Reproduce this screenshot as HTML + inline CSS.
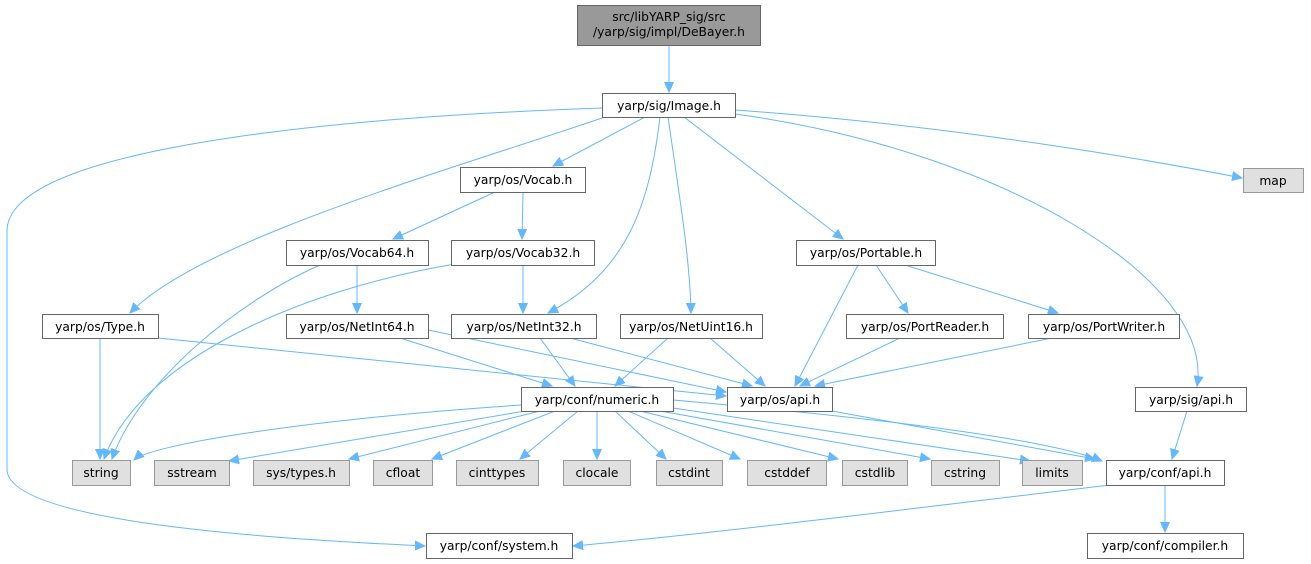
<!DOCTYPE html>
<html><head><meta charset="utf-8"><style>
html,body{margin:0;padding:0;background:#fff;}
svg{display:block;}
text{font-family:"DejaVu Sans","Liberation Sans",sans-serif;font-size:12.3px;fill:#000;}
.n{fill:#fff;stroke:#666;stroke-width:1;}
.g{fill:#e0e0e0;stroke:#999;stroke-width:1;}
.e{fill:none;stroke:#63b8ff;stroke-width:1;marker-end:url(#a);}
</style></head><body>
<svg width="1311" height="564" viewBox="0 0 1311 564" xmlns="http://www.w3.org/2000/svg">
<defs><marker id="a" markerWidth="11" markerHeight="10" refX="10" refY="5" orient="auto" markerUnits="userSpaceOnUse"><path d="M0,0.5 L10,5 L0,9.5 Z" fill="#63b8ff" stroke="#63b8ff"/></marker></defs>
<g>
<path class="e" d="M669,45 L669,92"/>
<path class="e" d="M735,110 C950,125 1150,160 1242,178"/>
<path class="e" d="M645,117 L553,166"/>
<path class="e" d="M605,117 C450,170 200,240 130,313"/>
<path class="e" d="M602,108 C400,115 10,140 7,230 L7,470 C10,525 300,540 425,546"/>
<path class="e" d="M660,117 C650,200 630,270 548,313"/>
<path class="e" d="M668,117 C680,200 690,260 691,313"/>
<path class="e" d="M684,117 L843,239"/>
<path class="e" d="M735,114 C1000,150 1215,280 1197,386"/>
<path class="e" d="M495,192 L393,239"/>
<path class="e" d="M523,192 L522,239"/>
<path class="e" d="M320,265 C240,300 140,380 112,459"/>
<path class="e" d="M357,265 L357,313"/>
<path class="e" d="M455,264 C300,290 140,360 104,459"/>
<path class="e" d="M523,265 L523,313"/>
<path class="e" d="M858,265 L795,386"/>
<path class="e" d="M876,265 L908,313"/>
<path class="e" d="M905,265 L1058,313"/>
<path class="e" d="M100,338 L100,459"/>
<path class="e" d="M158,338 L726,396"/>
<path class="e" d="M400,338 L552,386"/>
<path class="e" d="M428,330 L726,392"/>
<path class="e" d="M540,338 L575,386"/>
<path class="e" d="M570,338 L752,386"/>
<path class="e" d="M668,338 L615,386"/>
<path class="e" d="M710,338 L765,386"/>
<path class="e" d="M900,338 L800,386"/>
<path class="e" d="M1052,338 L815,386"/>
<path class="e" d="M832,411 L1095,459"/>
<path class="e" d="M1187,411 L1172,459"/>
<path class="e" d="M1110,485 C900,510 700,535 573,546"/>
<path class="e" d="M1165,485 L1165,532"/>
<path class="e" d="M521,405 C300,420 150,445 134,460"/>
<path class="e" d="M525,411 L229,461"/>
<path class="e" d="M540,411 L349,459"/>
<path class="e" d="M555,411 L432,459"/>
<path class="e" d="M578,411 L520,459"/>
<path class="e" d="M597,411 L597,459"/>
<path class="e" d="M615,411 L666,459"/>
<path class="e" d="M628,411 L740,459"/>
<path class="e" d="M640,411 L838,459"/>
<path class="e" d="M660,411 L930,459"/>
<path class="e" d="M673,408 L1030,461"/>
<path class="e" d="M673,400 C900,420 1050,440 1102,461"/>
</g>
<g>
<rect x="577.5" y="5.5" width="183" height="40" fill="#999" stroke="#666"/>
<text x="669" y="21" text-anchor="middle">src/libYARP_sig/src</text>
<text x="669" y="36" text-anchor="middle">/yarp/sig/impl/DeBayer.h</text>
<rect class="n" x="602.5" y="93.5" width="133" height="24"/><text x="669" y="110" text-anchor="middle">yarp/sig/Image.h</text>
<rect class="g" x="1243.5" y="168.5" width="60" height="24"/><text x="1273" y="185" text-anchor="middle">map</text>
<rect class="n" x="460.5" y="167.5" width="125" height="25"/><text x="523" y="184" text-anchor="middle">yarp/os/Vocab.h</text>
<rect class="n" x="286.5" y="240.5" width="142" height="25"/><text x="357" y="257" text-anchor="middle">yarp/os/Vocab64.h</text>
<rect class="n" x="451.5" y="240.5" width="143" height="25"/><text x="523" y="257" text-anchor="middle">yarp/os/Vocab32.h</text>
<rect class="n" x="796.5" y="240.5" width="139" height="25"/><text x="866" y="257" text-anchor="middle">yarp/os/Portable.h</text>
<rect class="n" x="42.5" y="314.5" width="116" height="24"/><text x="100" y="331" text-anchor="middle">yarp/os/Type.h</text>
<rect class="n" x="286.5" y="314.5" width="142" height="24"/><text x="357" y="331" text-anchor="middle">yarp/os/NetInt64.h</text>
<rect class="n" x="451.5" y="314.5" width="145" height="24"/><text x="524" y="331" text-anchor="middle">yarp/os/NetInt32.h</text>
<rect class="n" x="620.5" y="314.5" width="142" height="24"/><text x="691" y="331" text-anchor="middle">yarp/os/NetUint16.h</text>
<rect class="n" x="846.5" y="314.5" width="157" height="24"/><text x="925" y="331" text-anchor="middle">yarp/os/PortReader.h</text>
<rect class="n" x="1028.5" y="314.5" width="151" height="24"/><text x="1104" y="331" text-anchor="middle">yarp/os/PortWriter.h</text>
<rect class="n" x="727.5" y="387.5" width="105" height="24"/><text x="780" y="404" text-anchor="middle">yarp/os/api.h</text>
<rect class="n" x="521.5" y="387.5" width="152" height="24"/><text x="597" y="404" text-anchor="middle">yarp/conf/numeric.h</text>
<rect class="n" x="1135.5" y="387.5" width="111" height="24"/><text x="1191" y="404" text-anchor="middle">yarp/sig/api.h</text>
<rect class="g" x="72.5" y="460.5" width="58" height="25"/><text x="101" y="477" text-anchor="middle">string</text>
<rect class="g" x="154.5" y="460.5" width="75" height="25"/><text x="192" y="477" text-anchor="middle">sstream</text>
<rect class="g" x="253.5" y="460.5" width="96" height="25"/><text x="301" y="477" text-anchor="middle">sys/types.h</text>
<rect class="g" x="373.5" y="460.5" width="59" height="25"/><text x="403" y="477" text-anchor="middle">cfloat</text>
<rect class="g" x="456.5" y="460.5" width="82" height="25"/><text x="497" y="477" text-anchor="middle">cinttypes</text>
<rect class="g" x="563.5" y="460.5" width="67" height="25"/><text x="597" y="477" text-anchor="middle">clocale</text>
<rect class="g" x="656.5" y="460.5" width="66" height="25"/><text x="689" y="477" text-anchor="middle">cstdint</text>
<rect class="g" x="747.5" y="460.5" width="79" height="25"/><text x="787" y="477" text-anchor="middle">cstddef</text>
<rect class="g" x="842.5" y="460.5" width="65" height="25"/><text x="875" y="477" text-anchor="middle">cstdlib</text>
<rect class="g" x="931.5" y="460.5" width="68" height="25"/><text x="965" y="477" text-anchor="middle">cstring</text>
<rect class="g" x="1022.5" y="460.5" width="60" height="25"/><text x="1052" y="477" text-anchor="middle">limits</text>
<rect class="n" x="1106.5" y="460.5" width="118" height="25"/><text x="1165" y="477" text-anchor="middle">yarp/conf/api.h</text>
<rect class="n" x="426.5" y="533.5" width="146" height="25"/><text x="499" y="550" text-anchor="middle">yarp/conf/system.h</text>
<rect class="n" x="1087.5" y="533.5" width="156" height="25"/><text x="1165" y="550" text-anchor="middle">yarp/conf/compiler.h</text>
</g>
</svg>
</body></html>
